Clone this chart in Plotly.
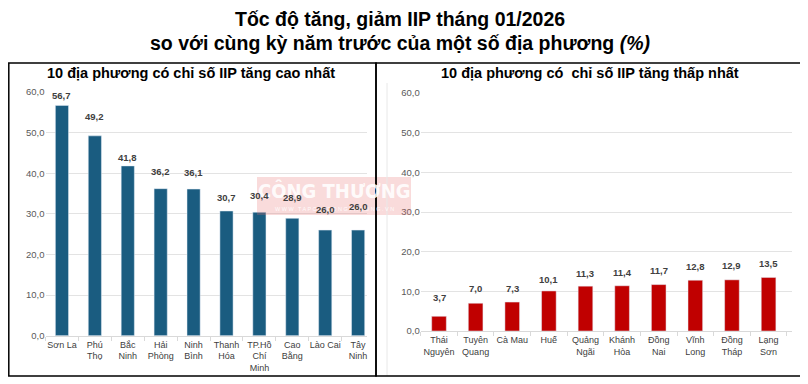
import plotly.graph_objects as go

# page body has an 8px margin, so the figure is drawn at (8, 8) in the 808x384 window
OFF = 8
W, H = 808 - OFF, 384 - OFF

# ---- data ----
top_regions = ["Sơn La", "Phú<br>Thọ", "Bắc<br>Ninh", "Hải<br>Phòng", "Ninh<br>Bình",
               "Thanh<br>Hóa", "TP.Hồ<br>Chí<br>Minh", "Cao<br>Bằng", "Lào Cai", "Tây<br>Ninh"]
top_values = [56.7, 49.2, 41.8, 36.2, 36.1, 30.7, 30.4, 28.9, 26.0, 26.0]

low_regions = ["Thái<br>Nguyên", "Tuyên<br>Quang", "Cà Mau", "Huế", "Quảng<br>Ngãi",
               "Khánh<br>Hòa", "Đồng<br>Nai", "Vĩnh<br>Long", "Đồng<br>Tháp", "Lạng<br>Sơn"]
low_values = [3.7, 7.0, 7.3, 10.1, 11.3, 11.4, 11.7, 12.8, 12.9, 13.5]

y_ticks = [0, 10, 20, 30, 40, 50, 60]
y_tick_text = ["0,0", "10,0", "20,0", "30,0", "40,0", "50,0", "60,0"]

# label offsets above bar tops (px) -- styling only
top_label_gap = [10, 19, 8, 17, 17, 14, 17, 21, 21, 24]
low_label_gap = [19, 15, 14, 11, 13, 13, 14, 14, 14, 14]

BLUE = "#1A5C80"
RED = "#C00000"
FONT = "Liberation Sans, Arial, sans-serif"
COND = "DejaVu Sans Condensed, Liberation Sans Narrow, Arial Narrow, sans-serif"


def px(x):
    return (x - OFF) / W


def py(y):
    return 1 - (y - OFF) / H


def fmt(v):
    return f"{v:.1f}".replace(".", ",")


fig = go.Figure()
fig.add_trace(go.Bar(x=top_regions, y=top_values, marker_color=BLUE, width=0.4,
                     xaxis="x", yaxis="y", hoverinfo="skip"))
fig.add_trace(go.Bar(x=low_regions, y=low_values, marker_color=RED, width=0.4,
                     xaxis="x2", yaxis="y2", hoverinfo="skip"))

# watermark texts first so data labels draw on top of them
annotations = [
    dict(x=px(334), y=py(191), xref="paper", yref="paper", showarrow=False,
         xanchor="center", yanchor="middle",
         text="<b>CÔNG THƯƠNG</b>",
         font=dict(family=COND, size=20, color="rgba(255,255,255,0.9)")),
    dict(x=px(334), y=py(209), xref="paper", yref="paper", showarrow=False,
         xanchor="center", yanchor="middle",
         text="W W W . T A P C H I C O N G T H U O N G . V N",
         font=dict(family=FONT, size=5.5, color="rgba(255,255,255,0.9)")),
]
for cat, v, g in zip(top_regions, top_values, top_label_gap):
    annotations.append(dict(x=cat, y=v, xref="x", yref="y", text=fmt(v), showarrow=False,
                            xanchor="center", yanchor="middle", yshift=g,
                            font=dict(family=FONT, size=9.5, color="#404040", weight="bold")))
for cat, v, g in zip(low_regions, low_values, low_label_gap):
    annotations.append(dict(x=cat, y=v, xref="x2", yref="y2", text=fmt(v), showarrow=False,
                            xanchor="center", yanchor="middle", yshift=g,
                            font=dict(family=FONT, size=9.5, color="#404040", weight="bold")))

# titles
annotations += [
    dict(x=px(400), y=py(19), xref="paper", yref="paper", showarrow=False,
         xanchor="center", yanchor="middle",
         text="<b>Tốc độ tăng, giảm IIP tháng 01/2026</b>",
         font=dict(family=FONT, size=19.5, color="#000000")),
    dict(x=px(400), y=py(43), xref="paper", yref="paper", showarrow=False,
         xanchor="center", yanchor="middle",
         text="<b>so với cùng kỳ năm trước của một số địa phương <i>(%)</i></b>",
         font=dict(family=FONT, size=19.5, color="#000000")),
    dict(x=px(191), y=py(73), xref="paper", yref="paper", showarrow=False,
         xanchor="center", yanchor="middle",
         text="<b>10 địa phương có chỉ số IIP tăng cao nhất</b>",
         font=dict(family=FONT, size=14.5, color="#000000")),
    dict(x=px(590), y=py(73), xref="paper", yref="paper", showarrow=False,
         xanchor="center", yanchor="middle",
         text="<b>10 địa phương có  chỉ số IIP tăng thấp nhất</b>",
         font=dict(family=FONT, size=14.5, color="#000000")),
]

shapes = [
    # watermark background
    dict(type="rect", xref="paper", yref="paper", x0=px(257), x1=px(411), y0=py(215), y1=py(177),
         fillcolor="rgba(230,110,110,0.25)", line=dict(width=0), layer="above"),
    # faint left line in right panel
    dict(type="line", xref="paper", yref="paper", x0=px(387), x1=px(387), y0=py(83), y1=py(376),
         line=dict(color="#E8E8E8", width=1)),
    # panel borders
    dict(type="rect", xref="paper", yref="paper", x0=px(8.8), x1=px(376), y0=py(376), y1=py(63),
         line=dict(color="#000000", width=1.5)),
    dict(type="rect", xref="paper", yref="paper", x0=px(376), x1=px(802), y0=py(376), y1=py(63),
         line=dict(color="#000000", width=1.5)),
]

xaxis_common = dict(type="category", showgrid=False, showline=True, linecolor="#D9D9D9",
                    linewidth=1, ticks="outside", tickson="boundaries", ticklen=4,
                    tickcolor="#D9D9D9", tickangle=0, fixedrange=True, automargin=False,
                    tickfont=dict(family=FONT, size=9, color="#404040"))
yaxis_common = dict(range=[0, 60], tickvals=y_ticks, ticktext=y_tick_text, showgrid=True,
                    gridcolor="#E3E3E3", gridwidth=1, zeroline=False, showline=False,
                    ticks="", fixedrange=True, automargin=False,
                    tickfont=dict(family=FONT, size=9.5, color="#595959"))

fig.update_layout(
    width=W, height=H, margin=dict(l=0, r=0, t=0, b=0),
    paper_bgcolor="white", plot_bgcolor="white", showlegend=False, bargap=0.6,
    xaxis=dict(**xaxis_common, domain=[px(45.5), px(367)], range=[-0.5, 9.27], anchor="y"),
    yaxis=dict(**yaxis_common, domain=[py(335.7), py(92)], anchor="x"),
    xaxis2=dict(**xaxis_common, domain=[px(420.7), px(792)], range=[-0.5, 9.64], anchor="y2"),
    yaxis2=dict(**yaxis_common, domain=[py(331), py(93)], anchor="x2"),
    annotations=annotations, shapes=shapes,
)

fig.write_html("out.html")
